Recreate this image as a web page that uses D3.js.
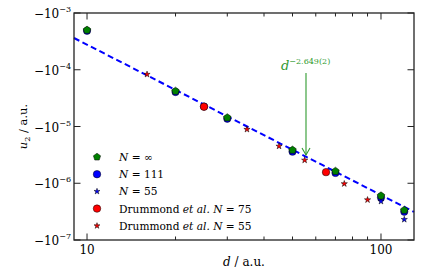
<!DOCTYPE html>
<html>
<head>
<meta charset="utf-8" />
<title>u2 vs d</title>
<script src="https://d3js.org/d3.v7.min.js"></script>
<style>
  body { margin: 0; background: #fff; }
  svg text { font-family: "DejaVu Serif", serif; }
</style>
</head>
<body>
<svg width="436" height="273"></svg>
<script>
// ---- data ----
var dInf = [10, 20, 30, 50, 70, 100, 120];
var uInf = [-5.0e-4, -4.2e-5, -1.43e-5, -3.84e-6, -1.63e-6, -6.0e-7, -3.36e-7];

var d111 = [10, 20, 25, 30, 50, 70, 100, 120];
var u111 = [-4.85e-4, -4.05e-5, -2.25e-5, -1.37e-5, -3.6e-6, -1.52e-6, -5.6e-7, -3.15e-7];

var d55 = [100, 120];
var u55 = [-4.8e-7, -2.3e-7];

var dDr75 = [25, 65];
var uDr75 = [-2.23e-5, -1.57e-6];

var dDr55 = [16, 35, 45, 55, 75, 90];
var uDr55 = [-8.3e-5, -8.9e-6, -4.5e-6, -2.55e-6, -9.8e-7, -5.1e-7];

// fit u = -c * d^(-p)
var fitC = 0.1233, fitP = 2.649;
var fitRange = [9.03, 129.5];

var yTicks = [-1e-3, -1e-4, -1e-5, -1e-6, -1e-7];
var xTicks = [10, 100];
var xMinor = [20, 30, 40, 50, 60, 70, 80, 90];

var svg = d3.select("svg"),
    margin = { top: 13, right: 22, bottom: 33, left: 74 },
    width = 436 - margin.left - margin.right,
    height = 273 - margin.top - margin.bottom,
    g = svg.append("g").attr("transform", "translate(" + margin.left + "," + margin.top + ")");

var x = d3.scaleLog().domain(fitRange).range([0, width]);
var y = d3.scaleLog().domain([1e-3, 1e-7]).range([0, height]);
function Y(v) { return y(-v); }

// pentagon marker
var pentagon = {
    draw: function (ctx, size) {
        var r = Math.sqrt(size / 2.378);
        for (var i = 0; i < 5; i++) {
            var a = -Math.PI / 2 + i * 2 * Math.PI / 5;
            if (i == 0) ctx.moveTo(r * Math.cos(a), r * Math.sin(a));
            else ctx.lineTo(r * Math.cos(a), r * Math.sin(a));
        }
        ctx.closePath();
    }
};

// fit line
var fitLine = d3.line()
    .x(function (d) { return x(d); })
    .y(function (d) { return Y(-fitC * Math.pow(d, -fitP)); });

g.append("path")
    .datum(fitRange)
    .attr("fill", "none")
    .attr("stroke", "#0000ff")
    .attr("stroke-width", 2)
    .attr("stroke-dasharray", "6,3.5")
    .attr("d", fitLine);

function points(ds, us, type, size, fill) {
    g.append("g").selectAll("path")
        .data(ds.map(function (d, i) { return [d, us[i]]; }))
        .enter().append("path")
        .attr("transform", function (p) { return "translate(" + x(p[0]) + "," + Y(p[1]) + ")"; })
        .attr("d", d3.symbol().type(type).size(size))
        .attr("fill", fill)
        .attr("stroke", "#000")
        .attr("stroke-width", 0.5);
}

points(d111, u111, d3.symbolCircle, 42, "#0000ff");
points(d55, u55, d3.symbolStar, 12, "#0000ff");
points(dInf, uInf, pentagon, 38, "#008000");
points(dDr75, uDr75, d3.symbolCircle, 44, "#ff0000");
points(dDr55, uDr55, d3.symbolStar, 12, "#ff0000");

// frame
g.append("rect")
    .attr("width", width).attr("height", height)
    .attr("fill", "none").attr("stroke", "#222").attr("stroke-width", 1.3);

// ticks (inward, on all four sides)
var tk = g.append("g").attr("stroke", "#222").attr("stroke-width", 1);
xTicks.forEach(function (t) {
    tk.append("line").attr("x1", x(t)).attr("x2", x(t)).attr("y1", height).attr("y2", height - 6.5);
    tk.append("line").attr("x1", x(t)).attr("x2", x(t)).attr("y1", 0).attr("y2", 6.5);
});
xMinor.forEach(function (t) {
    tk.append("line").attr("x1", x(t)).attr("x2", x(t)).attr("y1", height).attr("y2", height - 3.5);
    tk.append("line").attr("x1", x(t)).attr("x2", x(t)).attr("y1", 0).attr("y2", 3.5);
});
yTicks.forEach(function (t) {
    tk.append("line").attr("y1", Y(t)).attr("y2", Y(t)).attr("x1", 0).attr("x2", 6.5);
    tk.append("line").attr("y1", Y(t)).attr("y2", Y(t)).attr("x1", width).attr("x2", width - 6.5);
});

// tick labels
xTicks.forEach(function (t) {
    g.append("text")
        .attr("x", x(t)).attr("y", height + 14)
        .attr("text-anchor", "middle")
        .attr("font-size", 12)
        .text(t);
});
yTicks.forEach(function (t) {
    var e = Math.round(Math.log10(-t));
    var tx = g.append("text")
        .attr("x", -3).attr("y", Y(t) + 5)
        .attr("text-anchor", "end")
        .attr("font-size", 12);
    tx.append("tspan").text("\u221210");
    tx.append("tspan").attr("dy", -6).attr("font-size", 8).text("\u2212" + (-e));
});

// axis labels
svg.append("text")
    .attr("x", margin.left + width / 2).attr("y", 266)
    .attr("text-anchor", "middle")
    .attr("font-size", 12)
    .call(function (t) {
        t.append("tspan").attr("font-style", "italic").text("d");
        t.append("tspan").text(" / a.u.");
    });

svg.append("text")
    .attr("transform", "translate(27," + (margin.top + height / 2) + ") rotate(-90)")
    .attr("text-anchor", "middle")
    .attr("font-size", 11.5)
    .call(function (t) {
        t.append("tspan").attr("font-style", "italic").text("u");
        t.append("tspan").attr("dy", 3).attr("font-size", 8).text("2");
        t.append("tspan").attr("dy", -3).text(" / a.u.");
    });

// legend
var legendItems = [
    { type: pentagon, size: 34, fill: "#008000", parts: [["N", true], [" = \u221e", false]] },
    { type: d3.symbolCircle, size: 44, fill: "#0000ff", parts: [["N", true], [" = 111", false]] },
    { type: d3.symbolStar, size: 11, fill: "#0000ff", parts: [["N", true], [" = 55", false]] },
    { type: d3.symbolCircle, size: 44, fill: "#ff0000", parts: [["Drummond ", false], ["et al.", true], [" ", false], ["N", true], [" = 75", false]] },
    { type: d3.symbolStar, size: 11, fill: "#ff0000", parts: [["Drummond ", false], ["et al.", true], [" ", false], ["N", true], [" = 55", false]] }
];
var lg = svg.append("g").attr("transform", "translate(97,157)");
legendItems.forEach(function (it, i) {
    var row = lg.append("g").attr("transform", "translate(0," + (i * 17.2) + ")");
    row.append("path")
        .attr("d", d3.symbol().type(it.type).size(it.size))
        .attr("fill", it.fill).attr("stroke", "#000").attr("stroke-width", 0.5);
    var tx = row.append("text").attr("x", 22).attr("y", 4).attr("font-size", 10.6);
    it.parts.forEach(function (p) {
        tx.append("tspan").attr("font-style", p[1] ? "italic" : "normal").text(p[0]);
    });
});

// annotation
var annColor = "#2f9a2f";
var ax = 306;
svg.append("line")
    .attr("x1", ax).attr("x2", ax).attr("y1", 73).attr("y2", 155)
    .attr("stroke", annColor).attr("stroke-width", 1.1);
svg.append("path")
    .attr("d", "M" + (ax - 4) + ",148 L" + ax + ",155 L" + (ax + 4) + ",148")
    .attr("fill", "none").attr("stroke", annColor).attr("stroke-width", 1.1);
svg.append("text")
    .attr("x", 281).attr("y", 70)
    .attr("font-size", 13)
    .attr("fill", annColor)
    .call(function (t) {
        t.append("tspan").attr("font-style", "italic").text("d");
        t.append("tspan").attr("dy", -6).attr("font-size", 8).text("\u22122.649(2)");
    });
</script>
</body>
</html>
